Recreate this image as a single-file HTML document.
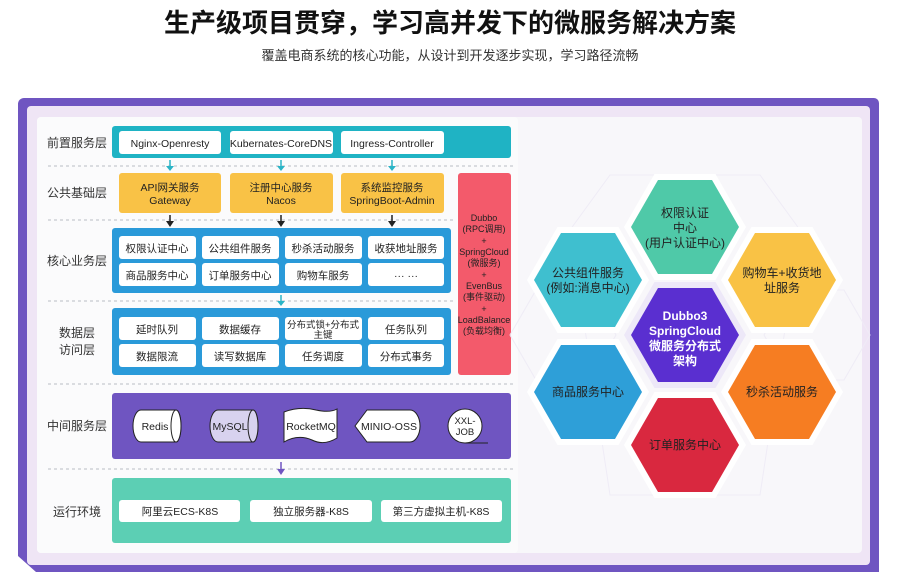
<!DOCTYPE html>
<html><head><meta charset="utf-8"><style>
html,body{margin:0;padding:0;background:#fff;}
svg{display:block;font-family:"Liberation Sans","Noto Sans CJK SC",sans-serif;}
</style></head><body>
<svg width="900" height="579" viewBox="0 0 900 579" xmlns="http://www.w3.org/2000/svg">
<text x="450" y="32" text-anchor="middle" font-size="26" font-weight="bold" fill="#111">生产级项目贯穿，学习高并发下的微服务解决方案</text>
<text x="450" y="60" text-anchor="middle" font-size="13" fill="#333">覆盖电商系统的核心功能，从设计到开发逐步实现，学习路径流畅</text>
<path d="M24 98 H874 a5 5 0 0 1 5 5 V572 H36 L18 556 V104 a6 6 0 0 1 6 -6Z" fill="#6f55c1"/>
<rect x="27" y="106" width="843" height="459" rx="4" fill="#efe5f5"/>
<rect x="37" y="117" width="825" height="436" rx="4" fill="#f8f7fa"/>
<rect x="37" y="117" width="481" height="436" rx="4" fill="#fbfbfc"/>
<g font-size="12" fill="#333" text-anchor="middle">
<text x="77" y="147">前置服务层</text>
<text x="77" y="197">公共基础层</text>
<text x="77" y="265">核心业务层</text>
<text x="77" y="337">数据层</text>
<text x="77" y="354">访问层</text>
<text x="77" y="430">中间服务层</text>
<text x="77" y="516">运行环境</text>
</g>
<g stroke="#b9bcc4" stroke-width="1" stroke-dasharray="3,3">
<line x1="48" y1="166" x2="514" y2="166"/>
<line x1="48" y1="220" x2="455" y2="220"/>
<line x1="48" y1="301" x2="455" y2="301"/>
<line x1="48" y1="384" x2="514" y2="384"/>
<line x1="48" y1="469" x2="514" y2="469"/>
</g>
<rect x="112" y="126" width="399" height="32" rx="3" fill="#1fb3c4"/>
<g fill="#fff"><rect x="119" y="131" width="102" height="23" rx="3"/><rect x="230" y="131" width="103" height="23" rx="3"/><rect x="341" y="131" width="103" height="23" rx="3"/></g>
<g font-size="10.5" fill="#222" text-anchor="middle">
<text x="170" y="147">Nginx-Openresty</text><text x="281" y="147">Kubernates-CoreDNS</text><text x="392" y="147">Ingress-Controller</text></g>
<g stroke="#2bb4c6" stroke-width="1.5" fill="#2bb4c6">
<line x1="170" y1="160" x2="170" y2="168"/><path d="M166 166 L174 166 L170 171Z" stroke="none"/>
<line x1="281" y1="160" x2="281" y2="168"/><path d="M277 166 L285 166 L281 171Z" stroke="none"/>
<line x1="392" y1="160" x2="392" y2="168"/><path d="M388 166 L396 166 L392 171Z" stroke="none"/>
<line x1="281" y1="295" x2="281" y2="302"/><path d="M277 301 L285 301 L281 306Z" stroke="none"/>
</g>
<g stroke="#222" stroke-width="1.5" fill="#222">
<line x1="170" y1="215" x2="170" y2="222"/><path d="M166 221 L174 221 L170 227Z" stroke="none"/>
<line x1="281" y1="215" x2="281" y2="222"/><path d="M277 221 L285 221 L281 227Z" stroke="none"/>
<line x1="392" y1="215" x2="392" y2="222"/><path d="M388 221 L396 221 L392 227Z" stroke="none"/>
</g>
<g stroke="#6f55c1" stroke-width="1.5" fill="#6f55c1">
<line x1="281" y1="462" x2="281" y2="470"/><path d="M277 469 L285 469 L281 475Z" stroke="none"/>
</g>
<g fill="#f9c246"><rect x="119" y="173" width="102" height="40" rx="3"/><rect x="230" y="173" width="103" height="40" rx="3"/><rect x="341" y="173" width="103" height="40" rx="3"/></g>
<g font-size="10.5" fill="#222" text-anchor="middle">
<text x="170" y="191">API网关服务</text><text x="170" y="204">Gateway</text>
<text x="281" y="191">注册中心服务</text><text x="281" y="204">Nacos</text>
<text x="392" y="191">系统监控服务</text><text x="392" y="204">SpringBoot-Admin</text></g>
<rect x="458" y="173" width="53" height="202" rx="3" fill="#f35a6b"/>
<g font-size="9" fill="#222" text-anchor="middle">
<text x="484" y="221">Dubbo</text><text x="484" y="232">(RPC调用)</text><text x="484" y="244">+</text>
<text x="484" y="255">SpringCloud</text><text x="484" y="266">(微服务)</text><text x="484" y="278">+</text>
<text x="484" y="289">EvenBus</text><text x="484" y="300">(事件驱动)</text><text x="484" y="312">+</text>
<text x="484" y="323">LoadBalance</text><text x="484" y="334">(负载均衡)</text></g>
<rect x="112" y="228" width="339" height="65" rx="3" fill="#2a9ad9"/>
<rect x="112" y="308" width="339" height="67" rx="3" fill="#2a9ad9"/>
<g fill="#fff">
<rect x="119" y="236" width="77" height="23" rx="3"/><rect x="202" y="236" width="77" height="23" rx="3"/><rect x="285" y="236" width="77" height="23" rx="3"/><rect x="368" y="236" width="76" height="23" rx="3"/>
<rect x="119" y="263" width="77" height="23" rx="3"/><rect x="202" y="263" width="77" height="23" rx="3"/><rect x="285" y="263" width="77" height="23" rx="3"/><rect x="368" y="263" width="76" height="23" rx="3"/>
<rect x="119" y="317" width="77" height="23" rx="3"/><rect x="202" y="317" width="77" height="23" rx="3"/><rect x="285" y="317" width="77" height="23" rx="3"/><rect x="368" y="317" width="76" height="23" rx="3"/>
<rect x="119" y="344" width="77" height="23" rx="3"/><rect x="202" y="344" width="77" height="23" rx="3"/><rect x="285" y="344" width="77" height="23" rx="3"/><rect x="368" y="344" width="76" height="23" rx="3"/>
</g>
<g font-size="10.5" fill="#222" text-anchor="middle">
<text x="157" y="252">权限认证中心</text><text x="240" y="252">公共组件服务</text><text x="323" y="252">秒杀活动服务</text><text x="406" y="252">收获地址服务</text>
<text x="157" y="279">商品服务中心</text><text x="240" y="279">订单服务中心</text><text x="323" y="279">购物车服务</text><text x="406" y="279">··· ···</text>
<text x="157" y="333">延时队列</text><text x="240" y="333">数据缓存</text><text x="323" y="328" font-size="9.5">分布式锁+分布式</text><text x="323" y="338" font-size="9.5">主键</text><text x="406" y="333">任务队列</text>
<text x="157" y="360">数据限流</text><text x="240" y="360">读写数据库</text><text x="323" y="360">任务调度</text><text x="406" y="360">分布式事务</text>
</g>
<rect x="112" y="393" width="399" height="66" rx="3" fill="#6f55c1"/>
<g stroke="#222" stroke-width="1">
<path d="M141 410 H176 A5 16 0 0 1 176 442 H141 A8 16 0 0 1 141 410Z" fill="#fff"/>
<ellipse cx="176" cy="426" rx="5" ry="16" fill="#fff"/>
<path d="M218 410 H253 A5 16 0 0 1 253 442 H218 A8 16 0 0 1 218 410Z" fill="#d8d2ef"/>
<ellipse cx="253" cy="426" rx="5" ry="16" fill="#d8d2ef"/>
<path d="M284 412 Q300 406 316 410 Q330 413 337 409 V438 Q324 446 312 440 Q298 434 284 442Z" fill="#fff"/>
<path d="M355 426 L367 410 H410 A10 16 0 0 1 410 442 H367Z" fill="#fff"/>
<circle cx="465" cy="426" r="17" fill="#fff"/>
<line x1="465" y1="443" x2="488" y2="443"/>
</g>
<g font-size="10.5" fill="#222" text-anchor="middle">
<text x="155" y="430">Redis</text><text x="230" y="430">MySQL</text><text x="311" y="430">RocketMQ</text><text x="389" y="430">MINIO-OSS</text>
<text x="465" y="424" font-size="9.5">XXL-</text><text x="465" y="435" font-size="9.5">JOB</text></g>
<rect x="112" y="478" width="399" height="65" rx="3" fill="#5ccfb4"/>
<g fill="#fff"><rect x="119" y="500" width="121" height="22" rx="3"/><rect x="250" y="500" width="122" height="22" rx="3"/><rect x="381" y="500" width="121" height="22" rx="3"/></g>
<g font-size="10.5" fill="#222" text-anchor="middle">
<text x="180" y="515">阿里云ECS-K8S</text><text x="311" y="515">独立服务器-K8S</text><text x="441" y="515">第三方虚拟主机-K8S</text></g>
<defs>
<polygon id="hx" points="-61,0 -30.5,-53 30.5,-53 61,0 30.5,53 -30.5,53"/>
<polygon id="hi" points="-54,0 -27,-47 27,-47 54,0 27,47 -27,47"/>
</defs>
<g fill="none" stroke="#efecf6" stroke-width="1">
<polygon points="540,335 566,290 620,290 646,335 620,380 566,380" transform="translate(-30,0)"/>
<polygon points="540,335 566,290 620,290 646,335 620,380 566,380" transform="translate(224,0)"/>
<polygon points="610,175 760,175 800,230 760,495 610,495 570,230" />
</g>
<g>
<use href="#hx" x="685" y="227" fill="#fff"/><use href="#hi" x="685" y="227" fill="#4fc9a8"/>
<use href="#hx" x="588" y="280" fill="#fff"/><use href="#hi" x="588" y="280" fill="#3fbfcf"/>
<use href="#hx" x="782" y="280" fill="#fff"/><use href="#hi" x="782" y="280" fill="#f9c245"/>
<use href="#hx" x="588" y="392" fill="#fff"/><use href="#hi" x="588" y="392" fill="#2e9fd8"/>
<use href="#hx" x="782" y="392" fill="#fff"/><use href="#hi" x="782" y="392" fill="#f67d22"/>
<use href="#hx" x="685" y="445" fill="#fff"/><use href="#hi" x="685" y="445" fill="#d9283f"/>
<use href="#hx" x="685" y="335" fill="#ede8f8"/><use href="#hi" x="685" y="335" fill="#5a2fd0"/>
</g>
<g font-size="12" fill="#222" text-anchor="middle">
<text x="685" y="217">权限认证</text><text x="685" y="232">中心</text><text x="685" y="247">(用户认证中心)</text>
<text x="588" y="277">公共组件服务</text><text x="588" y="292">(例如:消息中心)</text>
<text x="782" y="277">购物车+收货地</text><text x="782" y="292">址服务</text>
<text x="588" y="396">商品服务中心</text>
<text x="782" y="396">秒杀活动服务</text>
<text x="685" y="449">订单服务中心</text>
</g>
<g font-size="12" fill="#fff" text-anchor="middle" font-weight="bold">
<text x="685" y="320">Dubbo3</text><text x="685" y="335">SpringCloud</text><text x="685" y="350">微服务分布式</text><text x="685" y="365">架构</text>
</g>
</svg>
</body></html>
